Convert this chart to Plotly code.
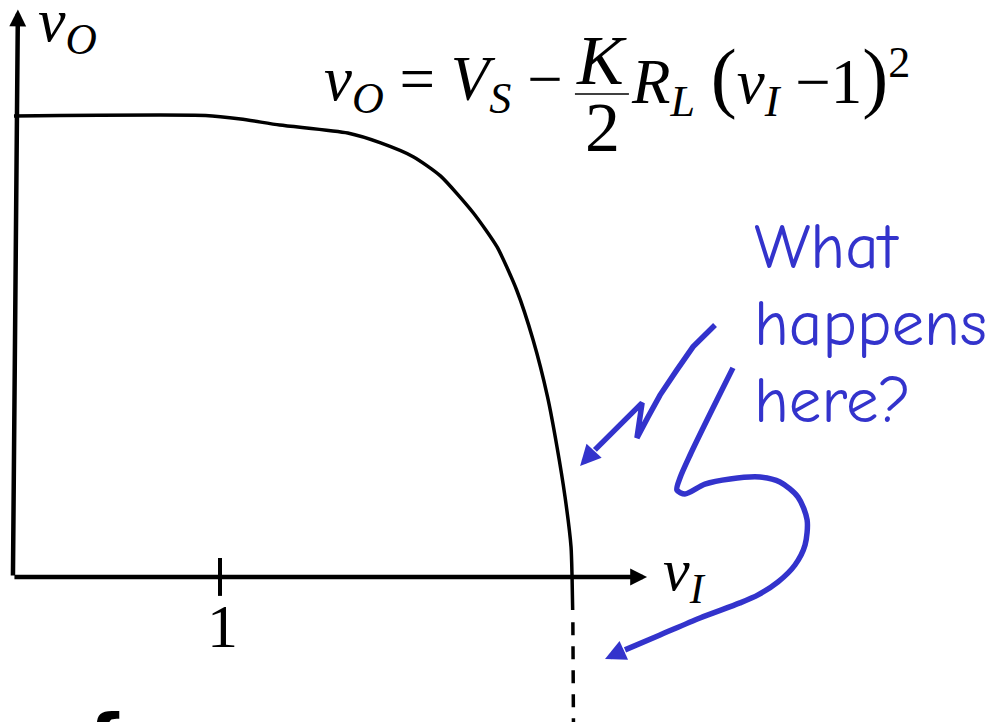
import plotly.graph_objects as go

BLUE = "#3333cc"
SERIF = "Liberation Serif, Times New Roman, serif"
HAND = "Comic Sans MS, Comic Neue, Open Sans, sans-serif"

# transfer curve v_O(v_I); one unit = distance from origin to the "1" tick
curve_vi = [0.0, 0.93, 1.10, 1.29, 1.62, 1.78, 1.94, 2.07, 2.23, 2.345,
            2.44, 2.52, 2.59, 2.636, 2.675, 2.704, 2.709, 2.712]
curve_vo = [2.238, 2.24, 2.223, 2.194, 2.155, 2.107, 2.039, 1.947, 1.767, 1.602,
            1.393, 1.150, 0.874, 0.631, 0.388, 0.146, 0.0, -0.16]

# dashed continuation below the v_I axis
dash_vi = [2.713, 2.716]
dash_vo = [-0.22, -0.75]

# axes: tail -> tip
v_axis_vi = [-0.005, 0.019]
v_axis_vo = [0.0, 2.755]
h_axis_vi = [-0.005, 3.073]
h_axis_vo = [0.0, 0.0]

tick_vals = [1]
tick_text = ["1"]

# hand-drawn blue arrows (last point = arrow tip)
arrow1_vi = [3.403, 3.296, 3.218, 3.136, 3.078, 3.024, 3.049, 2.942, 2.820, 2.748]
arrow1_vo = [1.223, 1.117, 1.005, 0.883, 0.777, 0.675, 0.845, 0.738, 0.617, 0.539]

arrow2_vi = [3.490, 3.417, 3.345, 3.282, 3.233, 3.218, 3.257, 3.354, 3.476, 3.621,
             3.718, 3.806, 3.850, 3.840, 3.791, 3.709, 3.612, 3.524, 3.330, 3.136,
             2.966, 2.869]
arrow2_vo = [1.015, 0.869, 0.723, 0.592, 0.481, 0.422, 0.403, 0.451, 0.476, 0.485,
             0.461, 0.388, 0.277, 0.155, 0.058, -0.024, -0.087, -0.126, -0.199, -0.282,
             -0.354, -0.398]

question_lines = ["What", "happens", "here?"]

fig = go.Figure()

fig.add_trace(go.Scatter(x=curve_vi, y=curve_vo, mode="lines",
                         line={"color": "black", "width": 3.5, "shape": "spline", "smoothing": 0.6}))
fig.add_trace(go.Scatter(x=dash_vi, y=dash_vo, mode="lines",
                         line={"color": "black", "width": 3.5, "dash": "13px,11px"}))

for t in tick_vals:
    fig.add_trace(go.Scatter(x=[t, t], y=[0.092, -0.092], mode="lines",
                             line={"color": "black", "width": 4}))

fig.add_trace(go.Scatter(x=arrow1_vi[:-1], y=arrow1_vo[:-1], mode="lines",
                         line={"color": BLUE, "width": 5.5}))
fig.add_trace(go.Scatter(x=arrow2_vi[:-1], y=arrow2_vo[:-1], mode="lines",
                         line={"color": BLUE, "width": 5.5, "shape": "spline", "smoothing": 0.8}))

annotations = []


def arrow(xs, ys, color, width, size):
    return dict(x=xs[-1], y=ys[-1], ax=xs[-2], ay=ys[-2], xref="x", yref="y",
                axref="x", ayref="y", text="", showarrow=True, arrowhead=2,
                arrowsize=size, arrowwidth=width, arrowcolor=color, standoff=0)


annotations.append(arrow(v_axis_vi, v_axis_vo, "black", 4.5, 0.75))
annotations.append(arrow(h_axis_vi, h_axis_vo, "black", 4.5, 0.75))
annotations.append(arrow(arrow1_vi, arrow1_vo, BLUE, 5.5, 0.75))
annotations.append(arrow(arrow2_vi, arrow2_vo, BLUE, 5.5, 0.75))

for t, label in zip(tick_vals, tick_text):
    annotations.append(dict(x=t + 0.01, y=-0.237, text=label, showarrow=False,
                            font={"family": SERIF, "size": 62, "color": "black"}))

# axis labels
annotations.append(dict(x=0.105, y=2.68, xanchor="left", showarrow=False,
                        text="<i>v</i><sub><i>O</i></sub>",
                        font={"family": SERIF, "size": 62, "color": "black"}))
annotations.append(dict(x=3.14, y=0.01, xanchor="left", showarrow=False,
                        text="<i>v</i><sub><i>I</i></sub>",
                        font={"family": SERIF, "size": 60, "color": "black"}))

# equation  v_O = V_S - K/2 R_L (v_I - 1)^2
eq_font = {"family": SERIF, "size": 63, "color": "black"}
frac_font = {"family": SERIF, "size": 70, "color": "black"}
paren = '<span style="font-size:78px">%s</span>'
annotations.append(dict(x=1.495, y=2.396, xanchor="left", showarrow=False,
                        text="<i>v</i><sub><i>O</i></sub> = <i>V</i><sub><i>S</i></sub> −",
                        font=eq_font))
annotations.append(dict(x=2.850, y=2.505, showarrow=False, text="<i>K</i>", font=frac_font))
annotations.append(dict(x=2.859, y=2.180, showarrow=False, text="2", font=frac_font))
annotations.append(dict(x=2.985, y=2.415, xanchor="left", showarrow=False,
                        text="<i>R</i><sub><i>L</i></sub>\u00a0" + paren % "(" +
                             "<i>v</i><sub><i>I</i></sub>\u00a0−1" + paren % ")" +
                             "<sup>2</sup>",
                        font=eq_font))

for i, line in enumerate(question_lines):
    annotations.append(dict(x=3.583, y=1.602 - 0.374 * i, xanchor="left", showarrow=False,
                            text=line, font={"family": HAND, "size": 65, "color": BLUE}))

# clipped glyph at the bottom edge
annotations.append(dict(x=0.43, y=-0.58, yanchor="top", showarrow=False, text="<b>{</b>",
                        font={"family": "DejaVu Sans", "size": 72, "color": "black"}))

fig.update_layout(
    width=994,
    height=722,
    margin={"l": 0, "r": 0, "t": 0, "b": 0},
    plot_bgcolor="white",
    paper_bgcolor="white",
    showlegend=False,
    annotations=annotations,
    shapes=[dict(type="line", xref="x", yref="y", x0=2.723, x1=2.985, y0=2.345, y1=2.345,
                 line={"color": "black", "width": 1.5})],
    xaxis={"visible": False, "range": [-0.029, 4.796], "fixedrange": True},
    yaxis={"visible": False, "range": [-0.743, 2.762], "fixedrange": True},
)

fig.write_html("out.html")
